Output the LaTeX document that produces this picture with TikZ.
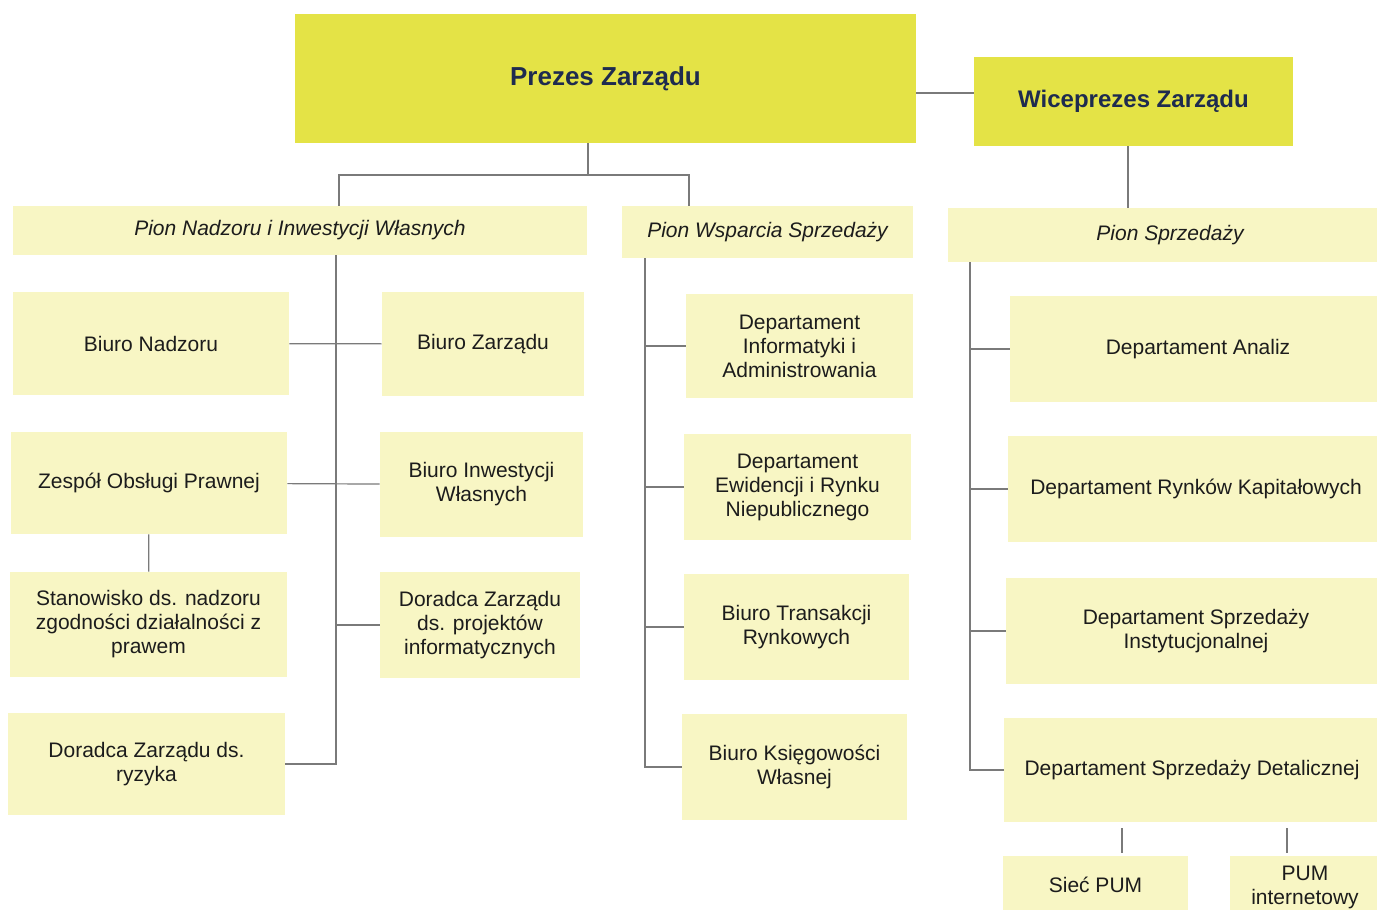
\documentclass[tikz,border=0pt]{standalone}
\usepackage{fontspec}
\setmainfont{Liberation Sans}
\definecolor{topyellow}{HTML}{E4E346}
\definecolor{paleyellow}{HTML}{F8F6C4}
\definecolor{navytext}{HTML}{1E2B4F}
\definecolor{bodytext}{HTML}{1C1C1C}
\definecolor{linegray}{HTML}{7A7A7A}
\tikzset{
  unit/.style={fill=paleyellow, inner sep=0pt, align=center, text=bodytext,
    font=\fontsize{10.5}{12}\selectfont},
  head/.style={fill=topyellow, inner sep=0pt, align=center, text=navytext},
  pion/.style={unit, font=\fontsize{10.5}{12}\selectfont\itshape},
  link/.style={draw=linegray, line width=0.6pt},
}
\begin{document}
\begin{tikzpicture}[x=0.5pt, y=-0.5pt]
	\useasboundingbox (0,0) rectangle (1377,910);

            \node[head, minimum width=310.5pt, minimum height=64.5pt, font=\fontsize{13}{15}\selectfont\bfseries] (prezes) at (605.5,78.5) {Prezes Zarządu};
            \node[head, minimum width=159.5pt, minimum height=44.5pt, font=\fontsize{12}{14}\selectfont\bfseries] (wice) at (1133.5,101.5) {Wiceprezes Zarządu};

            \node[pion, minimum width=287pt, minimum height=24.5pt] (pnadz) at (300,230.5) {Pion Nadzoru i Inwestycji Własnych};
            \node[pion, minimum width=145.5pt, minimum height=26pt] (pwsp) at (767.5,232) {Pion Wsparcia Sprzedaży};
            \node[pion, minimum width=222pt, minimum height=27pt] (psprz) at (1170,235) {Pion Sprzedaży};

            \node[unit, minimum width=138pt, minimum height=51.5pt] (bnadz) at (151,343.5) {Biuro Nadzoru};
            \node[unit, minimum width=101pt, minimum height=52pt] (bzarz) at (483,344) {Biuro Zarządu};
            \node[unit, minimum width=138pt, minimum height=51pt] (zop) at (149,483) {Zespół Obsługi Prawnej};
            \node[unit, minimum width=101.5pt, minimum height=52.5pt] (binw) at (481.5,484.5) {Biuro Inwestycji\\Własnych};
            \node[unit, minimum width=138.5pt, minimum height=52.5pt] (stan) at (148.5,624.5) {Stanowisko ds. nadzoru\\zgodności działalności z\\prawem};
            \node[unit, minimum width=100pt, minimum height=53pt] (dzproj) at (480,625) {Doradca Zarządu\\ds. projektów\\informatycznych};
            \node[unit, minimum width=138.5pt, minimum height=51pt] (ryzyko) at (146.5,764) {Doradca Zarządu ds.\\ryzyka};

            \node[unit, minimum width=113.5pt, minimum height=52pt] (dinf) at (799.5,346) {Departament\\Informatyki i\\Administrowania};
            \node[unit, minimum width=113.5pt, minimum height=53pt] (dewid) at (797.5,487) {Departament\\Ewidencji i Rynku\\Niepublicznego};
            \node[unit, minimum width=112.5pt, minimum height=53pt] (btrans) at (796.5,627) {Biuro Transakcji\\Rynkowych};
            \node[unit, minimum width=112.5pt, minimum height=53pt] (bksieg) at (794.5,767) {Biuro Księgowości\\Własnej};

            \node[unit, minimum width=188pt, minimum height=53pt] (danal) at (1198,349) {Departament Analiz};
            \node[unit, minimum width=188pt, minimum height=53pt] (drynk) at (1196,489) {Departament Rynków Kapitałowych};
            \node[unit, minimum width=190pt, minimum height=53pt] (dinst) at (1196,631) {Departament Sprzedaży\\Instytucjonalnej};
            \node[unit, minimum width=188pt, minimum height=52pt] (ddet) at (1192,770) {Departament Sprzedaży Detalicznej};
            \node[unit, minimum width=92.5pt, minimum height=29pt] (siec) at (1095.5,885) {Sieć PUM};
            \node[unit, minimum width=75pt, minimum height=31pt] (pumi) at (1305,887) {PUM\\internetowy};

            \coordinate (fork) at (588,175);
            \coordinate (tn) at (339,0);
            \coordinate (tw) at (689,0);
            \coordinate (ts) at (1128,0);
            \coordinate (rn) at (336,0);
            \coordinate (rw) at (645,0);
            \coordinate (rs) at (970,0);
            \coordinate (sx) at (1122,0);
            \coordinate (px) at (1287,0);

            \draw[link] ([yshift=4.25pt]wice.west) -- ([yshift=4.25pt]wice.west -| prezes.east);
            \draw[link] (prezes.south -| fork) -- (fork);
            \draw[link] (pnadz.north -| tn) |- (fork) -| (pwsp.north -| tw);
            \draw[link] (wice.south -| ts) -- (psprz.north -| ts);

            \draw[link] (pnadz.south -| rn) |- (ryzyko.east);
            \draw[link] (bnadz) -- (bzarz);
            \draw[link] (zop) -- (binw);
            \draw[link] (dzproj.west) -- (dzproj.west -| rn);
            \draw[link] (zop) -- (stan);

            \draw[link] (pwsp.south -| rw) |- (bksieg.west);
            \foreach \n in {dinf,dewid,btrans}{
              \draw[link] (\n.west) -- (\n.west -| rw);
            }

            \draw[link] (psprz.south -| rs) |- (ddet.west);
            \foreach \n in {danal,drynk,dinst}{
              \draw[link] (\n.west) -- (\n.west -| rs);
            }

            \draw[link, shorten <=3pt, shorten >=1.5pt] (ddet.south -| sx) -- (siec.north -| sx);
            \draw[link, shorten <=3pt, shorten >=1.5pt] (ddet.south -| px) -- (pumi.north -| px);
\end{tikzpicture}
\end{document}
